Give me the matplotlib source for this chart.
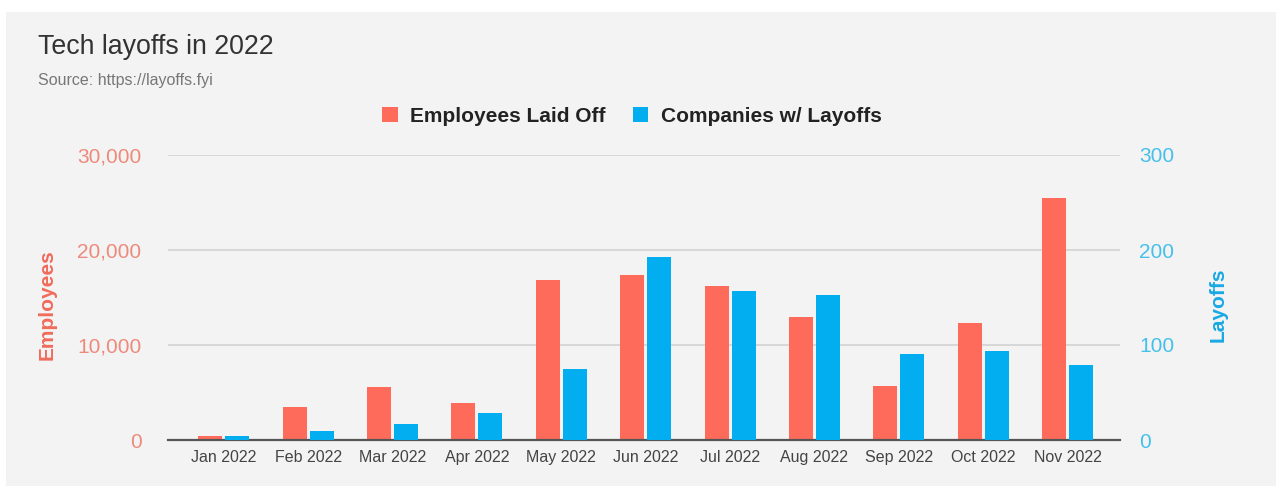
import matplotlib
matplotlib.use("Agg")
import matplotlib.pyplot as plt
from matplotlib.patches import Rectangle, Patch
import numpy as np

plt.rcParams['font.family'] = ['Liberation Sans', 'DejaVu Sans']

# Monthly data
months = ["Jan 2022", "Feb 2022", "Mar 2022", "Apr 2022", "May 2022", "Jun 2022",
          "Jul 2022", "Aug 2022", "Sep 2022", "Oct 2022", "Nov 2022"]
employees_laid_off = [420, 3500, 5600, 3930, 16800, 17400, 16200, 12900, 5680, 12330, 25450]
companies_with_layoffs = [4, 10, 17, 28, 75, 193, 157, 153, 91, 94, 79]

emp_ticks = [0, 10000, 20000, 30000]
emp_tick_labels = ["0", "10,000", "20,000", "30,000"]
comp_ticks = [0, 100, 200, 300]
comp_tick_labels = ["0", "100", "200", "300"]

RED = "#FF6B5A"
BLUE = "#02AEEF"
BG = "#F3F3F3"

W, H = 1276, 486
fig = plt.figure(figsize=(W / 100, H / 100), dpi=100)
fig.patch.set_facecolor("white")
fig.patches.append(Rectangle((6 / W, 0), 1 - 6 / W, 1 - 12 / H, transform=fig.transFigure,
                             facecolor=BG, edgecolor="none", zorder=-10))

ax = fig.add_axes([168 / W, 1 - 440 / H, (1120 - 168) / W, (440 - 155) / H])
ax.set_facecolor("none")
ax2 = ax.twinx()

x = np.arange(len(months))
bw = 0.285
off = 0.16
ax.bar(x - off, employees_laid_off, width=bw, color=RED, zorder=3)
ax2.bar(x + off, companies_with_layoffs, width=bw, color=BLUE, zorder=3)

ax.set_xlim(-0.66, len(months) - 1 + 0.62)
ax.set_ylim(0, 30000)
ax2.set_ylim(0, 300)

ax.set_yticks(emp_ticks)
ax.set_yticklabels(emp_tick_labels)
ax2.set_yticks(comp_ticks)
ax2.set_yticklabels(comp_tick_labels)
ax.set_xticks(x)
ax.set_xticklabels(months)

ax.grid(axis="y", color="#D2D2D2", linewidth=1.2, zorder=0)
ax.set_axisbelow(True)
for a in (ax, ax2):
    for s in a.spines.values():
        s.set_visible(False)
ax.spines["bottom"].set_visible(True)
ax.spines["bottom"].set_color("#555555")
ax.spines["bottom"].set_linewidth(1.6)
ax.spines["bottom"].set_zorder(5)

ax.tick_params(axis="y", length=0, pad=19, labelsize=15, labelcolor="#EE8A7C")
ax2.tick_params(axis="y", length=0, pad=14, labelsize=15, labelcolor="#45C0EA")
ax.tick_params(axis="x", length=0, pad=7, labelsize=11.5, labelcolor="#444444")

fig.text(47 / W, 1 - 305 / H, "Employees", rotation=90, ha="center", va="center",
         fontsize=15, fontweight="bold", color="#F06B5B")
fig.text(1218 / W, 1 - 305 / H, "Layoffs", rotation=90, ha="center", va="center",
         fontsize=15, fontweight="bold", color="#18A9E4")

fig.text(38 / W, 1 - 47 / H, "Tech layoffs in 2022", ha="left", va="center",
         fontsize=19.3, color="#333333")
fig.text(38 / W, 1 - 80 / H, "Source: https://layoffs.fyi", ha="left", va="center",
         fontsize=11.5, color="#777777")

handles = [Patch(facecolor=RED, edgecolor="none", label="Employees Laid Off"),
           Patch(facecolor=BLUE, edgecolor="none", label="Companies w/ Layoffs")]
leg = fig.legend(handles=handles, loc="center", bbox_to_anchor=(632 / W, 1 - 116 / H),
                 ncol=2, frameon=False, handlelength=0.75, handleheight=0.75,
                 handletextpad=0.6, columnspacing=1.3,
                 prop={"weight": "bold", "size": 15})
for t in leg.get_texts():
    t.set_color("#222222")

fig.savefig("out.png", dpi=100, facecolor=fig.get_facecolor())
